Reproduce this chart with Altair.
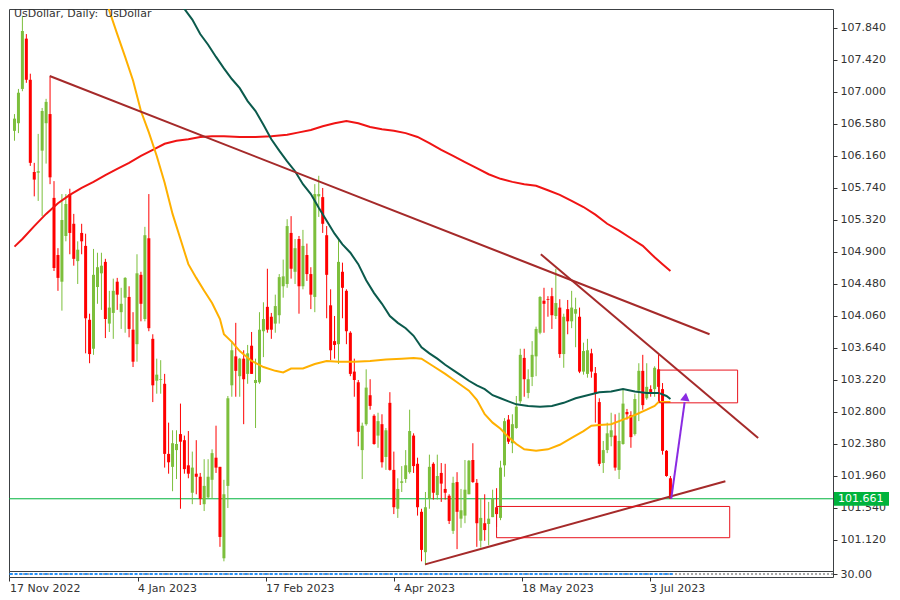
import altair as alt
import pandas as pd

# ---------------- data ----------------
opens = [106.49, 106.59, 107.04, 107.70, 107.16, 105.95, 105.94, 106.23, 106.59, 106.71,
         105.61, 104.86, 104.51, 105.11, 105.66, 105.27, 104.78, 105.15, 104.98, 104.01,
         103.63, 104.44, 104.62, 104.77, 103.96, 104.10, 104.51, 104.11, 104.30, 104.31,
         103.88, 103.69, 104.60, 104.02, 105.08, 103.76, 103.21, 103.22, 103.17, 102.25,
         102.08, 102.30, 102.51, 102.43, 102.10, 101.74, 101.99, 101.95, 101.59, 101.68,
         101.91, 102.20, 102.08, 100.88, 101.83, 103.15, 103.53, 103.27, 103.50, 103.30,
         103.67, 103.18, 103.19, 103.86, 104.18, 104.05, 103.96, 104.07, 104.45, 104.48,
         105.15, 104.64, 105.07, 104.45, 104.86, 104.61, 104.31, 105.63, 105.62, 105.12,
         104.20, 103.73, 103.69, 104.64, 104.39, 103.84, 103.33, 103.19, 102.30, 102.64,
         103.02, 102.75, 102.49, 102.64, 102.21, 102.92, 102.04, 101.53, 101.87, 101.92,
         102.01, 102.49, 102.12, 101.49, 100.96, 101.66, 102.12, 101.71, 102.00, 101.79,
         101.70, 101.24, 101.88, 101.40, 101.44, 101.72, 102.17, 101.87, 101.11, 101.34,
         101.33, 101.42, 101.55, 101.41, 102.10, 102.70, 102.39, 102.59, 102.94, 103.51,
         103.05, 103.26, 103.53, 103.84, 104.26, 104.28, 104.32, 104.06, 104.17, 103.56,
         104.15, 103.99, 104.09, 104.05, 103.33, 103.30, 103.57, 103.31, 102.93, 102.13,
         102.30, 102.47, 102.49, 102.04, 102.38, 102.80, 102.76, 102.51, 103.08, 103.34,
         102.98, 103.10, 103.10, 103.36, 103.10, 102.29, 101.93]
highs = [106.71, 107.04, 108.00, 107.76, 107.24, 106.07, 106.45, 106.79, 106.91, 107.20,
         105.83, 104.95, 105.66, 105.66, 105.73, 105.40, 105.04, 105.27, 105.14, 104.09,
         104.94, 104.89, 104.89, 104.81, 104.39, 104.55, 104.56, 104.43, 104.57, 104.45,
         104.11, 104.87, 104.64, 105.23, 105.66, 103.82, 103.50, 103.48, 103.30, 102.66,
         102.56, 102.56, 102.91, 102.49, 102.55, 102.28, 102.43, 102.00, 102.18, 102.18,
         102.31, 102.62, 102.08, 101.91, 103.01, 103.73, 103.97, 103.51, 103.61, 103.68,
         103.85, 103.50, 104.11, 104.24, 104.68, 104.10, 104.34, 104.61, 104.80, 105.33,
         105.37, 105.07, 105.11, 105.19, 105.01, 104.70, 105.79, 105.90, 105.74, 105.24,
         104.41, 104.06, 105.07, 104.76, 104.41, 103.86, 103.50, 103.22, 102.66, 103.36,
         103.23, 102.77, 102.79, 102.77, 102.59, 103.06, 102.28, 101.93, 102.09, 102.30,
         102.83, 102.52, 102.20, 101.53, 101.75, 102.24, 102.14, 102.24, 102.13, 102.12,
         101.72, 101.95, 102.01, 101.79, 102.17, 102.17, 102.39, 101.92, 101.67, 101.72,
         101.62, 101.78, 101.80, 102.16, 102.72, 102.76, 102.77, 103.01, 103.63, 103.63,
         103.36, 103.73, 103.92, 104.32, 104.43, 104.32, 104.43, 104.68, 104.28, 104.09,
         104.27, 104.39, 104.30, 104.17, 103.71, 103.76, 103.63, 103.39, 102.98, 102.42,
         102.66, 102.79, 102.77, 102.79, 103.10, 102.84, 102.81, 103.04, 103.44, 103.55,
         103.44, 103.15, 103.40, 103.55, 103.18, 102.30, 101.96]
lows = [106.36, 106.46, 107.01, 107.12, 106.03, 105.63, 105.57, 105.37, 106.06, 105.79,
        104.65, 104.39, 104.13, 105.04, 104.87, 104.72, 104.48, 104.87, 103.57, 103.44,
        103.55, 104.22, 104.14, 103.77, 103.85, 103.76, 104.14, 103.89, 103.84, 103.78,
        103.39, 103.46, 103.99, 103.99, 103.86, 102.93, 103.04, 103.04, 102.07, 101.99,
        101.76, 101.92, 101.53, 101.99, 101.93, 101.59, 101.72, 101.58, 101.50, 101.66,
        101.66, 102.00, 101.03, 100.84, 101.54, 103.00, 103.00, 103.00, 102.64, 103.17,
        103.30, 102.59, 103.17, 103.52, 103.84, 103.76, 103.84, 103.96, 104.30, 104.43,
        104.55, 104.48, 104.09, 104.41, 104.52, 104.15, 104.11, 105.36, 105.15, 104.03,
        103.48, 103.50, 103.43, 104.03, 103.69, 103.27, 103.00, 102.35, 101.92, 102.62,
        102.83, 102.37, 102.33, 102.07, 102.04, 102.03, 101.46, 101.41, 101.75, 101.87,
        101.99, 102.00, 101.44, 100.84, 100.79, 101.53, 101.65, 101.65, 101.62, 101.65,
        101.33, 101.20, 101.00, 101.28, 101.34, 101.72, 101.87, 101.03, 101.02, 101.11,
        101.05, 101.42, 101.29, 101.38, 101.95, 102.38, 102.26, 102.58, 102.91, 103.00,
        102.98, 103.14, 103.27, 103.82, 103.84, 104.05, 103.89, 104.02, 103.51, 103.38,
        103.82, 103.90, 103.65, 103.31, 103.29, 103.25, 103.25, 102.66, 102.09, 102.00,
        102.26, 102.35, 102.03, 101.92, 102.37, 102.70, 102.33, 102.49, 102.68, 102.83,
        102.96, 103.00, 103.00, 102.93, 102.24, 101.95, 101.66]
closes = [106.65, 106.99, 107.80, 107.16, 106.07, 105.85, 105.96, 106.75, 106.87, 105.88,
          104.69, 104.56, 105.32, 105.53, 105.15, 104.81, 104.93, 105.04, 104.03, 103.56,
          104.60, 104.70, 104.72, 104.02, 104.17, 104.39, 104.34, 104.22, 104.56, 103.89,
          103.46, 104.62, 104.22, 105.12, 103.90, 103.15, 103.29, 103.23, 102.25, 102.14,
          102.39, 102.38, 102.41, 102.05, 101.99, 102.07, 101.95, 101.66, 101.83, 101.95,
          102.26, 102.07, 101.16, 101.72, 102.98, 103.61, 103.34, 103.50, 103.23, 103.57,
          103.30, 103.22, 103.88, 104.02, 103.88, 103.88, 104.19, 104.57, 104.58, 105.24,
          104.68, 104.95, 104.45, 104.98, 104.61, 104.34, 105.66, 105.66, 105.27, 104.60,
          103.61, 103.68, 104.77, 104.43, 103.86, 103.30, 103.22, 102.54, 102.62, 103.12,
          102.88, 102.38, 102.68, 102.14, 102.56, 102.04, 101.55, 101.79, 101.89, 102.10,
          102.55, 102.09, 101.55, 100.99, 101.55, 102.08, 101.74, 101.96, 101.86, 101.74,
          101.37, 101.87, 101.49, 101.51, 101.78, 102.16, 101.88, 101.34, 101.41, 101.25,
          101.40, 101.66, 101.46, 102.07, 102.68, 102.41, 102.64, 102.87, 103.55, 103.23,
          103.23, 103.55, 103.89, 104.31, 104.22, 104.27, 104.07, 104.23, 103.56, 104.05,
          103.99, 104.17, 104.15, 103.33, 103.60, 103.61, 103.33, 103.04, 102.12, 102.30,
          102.52, 102.56, 102.07, 102.42, 102.91, 102.77, 102.47, 102.97, 103.34, 102.89,
          103.13, 103.04, 103.38, 103.13, 102.29, 101.96, 101.661]

date_ticks = [0, 32, 64, 96, 128, 160]
date_labels = ["17 Nov 2022", "4 Jan 2023", "17 Feb 2023", "4 Apr 2023", "18 May 2023", "3 Jul 2023"]
price_ticks = [107.84, 107.42, 107.00, 106.58, 106.16, 105.74, 105.32, 104.90, 104.48,
               104.06, 103.64, 103.22, 102.80, 102.38, 101.96, 101.54, 101.12]

ma_fast_k = [15, 20, 23, 26, 28, 30, 32, 34, 36, 38, 40, 42, 44, 46, 48, 50, 52, 53, 55, 57,
             60, 63, 66, 68, 70, 73, 76, 79, 82, 86, 90, 94, 98, 101, 103, 106, 109, 112, 115, 117,
             119, 121, 123, 125, 127, 129, 132, 135, 138, 141, 144, 146, 148, 151, 154, 157, 160, 162, 163, 166]
ma_fast_v = [108.98, 108.43, 108.22, 107.76, 107.46, 107.15, 106.75, 106.47, 106.16, 105.81,
             105.40, 105.07, 104.74, 104.56, 104.39, 104.23, 104.02, 103.82, 103.72, 103.60,
             103.47, 103.39, 103.34, 103.32, 103.37, 103.37, 103.43, 103.47, 103.46, 103.46,
             103.47, 103.49, 103.50, 103.51, 103.50, 103.40, 103.30, 103.19, 103.08, 102.96,
             102.77, 102.66, 102.58, 102.47, 102.38, 102.31, 102.29, 102.31, 102.37, 102.46,
             102.55, 102.62, 102.63, 102.64, 102.70, 102.76, 102.83, 102.88, 102.93, 102.93]
ma_mid_k = [38, 41, 43, 45, 47, 49, 51, 53, 55, 57, 59, 61, 63, 65, 67, 69, 71, 73, 75, 77,
            79, 81, 83, 85, 87, 89, 91, 93, 95, 97, 99, 101, 103, 105, 107, 109, 111, 113, 115, 117,
            119, 121, 123, 125, 127, 130, 133, 136, 139, 142, 145, 148, 151, 154, 157, 160, 163, 165, 166]
ma_mid_v = [108.52, 108.23, 108.09, 107.95, 107.76, 107.62, 107.46, 107.31, 107.17, 107.05,
            106.88, 106.75, 106.57, 106.38, 106.23, 106.09, 105.96, 105.79, 105.66, 105.48,
            105.31, 105.14, 105.00, 104.89, 104.74, 104.53, 104.36, 104.22, 104.06, 103.97,
            103.90, 103.80, 103.65, 103.57, 103.50, 103.42, 103.35, 103.28, 103.21, 103.15,
            103.10, 103.02, 102.98, 102.94, 102.90, 102.88, 102.87, 102.88, 102.92, 102.98,
            103.02, 103.06, 103.07, 103.10, 103.07, 103.05, 103.05, 103.01, 102.97]
ma_slow_k = [0, 2, 5, 8, 11, 14, 17, 20, 23, 26, 29, 32, 35, 38, 41, 44, 47, 50, 53, 57,
             61, 65, 69, 72, 75, 78, 81, 84, 87, 90, 93, 96, 99, 102, 105, 108, 111, 114, 117, 120,
             123, 126, 129, 132, 135, 138, 141, 144, 147, 150, 153, 156, 159, 162, 164, 166]
ma_slow_v = [104.97, 105.07, 105.24, 105.40, 105.54, 105.65, 105.74, 105.82, 105.91, 105.99,
             106.07, 106.16, 106.24, 106.32, 106.36, 106.38, 106.41, 106.42, 106.42, 106.41,
             106.41, 106.42, 106.44, 106.47, 106.50, 106.55, 106.59, 106.62, 106.59, 106.54,
             106.51, 106.49, 106.46, 106.41, 106.33, 106.24, 106.16, 106.08, 106.00, 105.92,
             105.86, 105.82, 105.79, 105.77, 105.71, 105.65, 105.57, 105.49, 105.39, 105.27,
             105.18, 105.08, 104.98, 104.83, 104.74, 104.65]

trend_id = ["a", "a", "b", "b", "c", "c"]
trend_k = [8.9, 175.9, 133.2, 188.2, 103.9, 179.9]
trend_p = [107.21, 103.82, 104.87, 102.46, 100.80, 101.89]

zone_k1 = [163.2, 122.0]
zone_k2 = [183.0, 181.0]
zone_top = [103.35, 101.56]
zone_bottom = [102.92, 101.15]

arrow_k = [166.2, 169.6]
arrow_p = [101.66, 102.93]
arrow_head_k = [169.8]
arrow_head_p = [103.0]

last_price = [101.661]
sub_level = [30]
chart_title = "UsDollar, Daily: \u00a0UsDollar"

# ---------------- styling ----------------
BULL = "#7CBF3C"
BEAR = "#FF0000"
C_FAST = "#FFB000"
C_MID = "#0B5A4C"
C_SLOW = "#F01414"
BROWN = "#A52A2A"
ZONE = "#E8141E"
GREEN = "#00B33C"
PURPLE = "#8A2BE2"
INK = "#333333"
FONT = "DejaVu Sans"

W, H = 824, 562
xs = alt.Scale(domain=[-0.125, 205.875], nice=False, zero=False)
ys = alt.Scale(domain=[100.713, 108.089], nice=False, zero=False)

y_axis = alt.Axis(orient="right", values=price_ticks, format=".3f", title=None, tickSize=4,
                  labelPadding=3, domain=False, grid=False, labelOverlap=False, labelFlush=False)
X = lambda f: alt.X(f, scale=xs, axis=None)
Y = lambda f: alt.Y(f, scale=ys, axis=y_axis)

candles = pd.DataFrame({"k": list(range(len(opens))), "open": opens, "high": highs,
                        "low": lows, "close": closes})
candles["dir"] = ["up" if c >= o else "down" for o, c in zip(opens, closes)]
col = alt.Color("dir:N", scale=alt.Scale(domain=["up", "down"], range=[BULL, BEAR]), legend=None)

price_line = alt.Chart(pd.DataFrame({"p": last_price})).mark_rule(
    color=GREEN, strokeWidth=1, clip=True).encode(y=Y("p:Q"))

base = alt.Chart(candles)
wicks = base.mark_rule(strokeWidth=1, clip=True).encode(
    x=X("k:Q"), y=Y("low:Q"), y2="high:Q", color=col)
bodies = base.mark_bar(size=3, clip=True).encode(
    x=X("k:Q"), y=Y("open:Q"), y2="close:Q", color=col)


def ma_layer(ks, vs, colour):
    df = pd.DataFrame({"k": ks, "v": vs})
    return alt.Chart(df).mark_line(strokeWidth=2, clip=True, color=colour).encode(
        x=X("k:Q"), y=Y("v:Q"), order="k:Q")


ma_slow = ma_layer(ma_slow_k, ma_slow_v, C_SLOW)
ma_mid = ma_layer(ma_mid_k, ma_mid_v, C_MID)
ma_fast = ma_layer(ma_fast_k, ma_fast_v, C_FAST)

trend_df = pd.DataFrame({"id": trend_id, "k": trend_k, "p": trend_p})
trends = alt.Chart(trend_df).mark_line(strokeWidth=2, color=BROWN, clip=True).encode(
    x=X("k:Q"), y=Y("p:Q"), detail="id:N")

zone_df = pd.DataFrame({"k1": zone_k1, "k2": zone_k2, "top": zone_top, "bottom": zone_bottom})
zones = alt.Chart(zone_df).mark_rect(fillOpacity=0, stroke=ZONE, strokeWidth=1, clip=True).encode(
    x=X("k1:Q"), x2="k2:Q", y=Y("top:Q"), y2="bottom:Q")

arrow_line = alt.Chart(pd.DataFrame({"k": arrow_k, "p": arrow_p})).mark_line(
    color=PURPLE, strokeWidth=2, clip=True).encode(x=X("k:Q"), y=Y("p:Q"))
arrow_head = alt.Chart(pd.DataFrame({"k": arrow_head_k, "p": arrow_head_p})).mark_point(
    shape="triangle-up", filled=True, size=90, angle=8, color=PURPLE, opacity=1, clip=True).encode(
    x=X("k:Q"), y=Y("p:Q"))

title_txt = alt.Chart(pd.DataFrame({"t": [chart_title]})).mark_text(
    align="left", baseline="middle", font=FONT, fontSize=11, color=INK, clip=True).encode(
    x=alt.value(5), y=alt.value(5), text="t:N")

tag_df = pd.DataFrame({"p": last_price})
tag_df["lo"] = tag_df["p"] - 0.09
tag_df["hi"] = tag_df["p"] + 0.09
tag_df["lab"] = [f"{v:.3f}" for v in last_price]
tag_box = alt.Chart(tag_df).mark_rect(color=GREEN).encode(
    x=alt.value(W + 1), x2=alt.value(W + 56), y=Y("lo:Q"), y2="hi:Q")
tag_txt = alt.Chart(tag_df).mark_text(align="left", baseline="middle", font=FONT,
                                      fontSize=11, color="white").encode(
    x=alt.value(W + 5), y=Y("p:Q"), text="lab:N")

main = alt.layer(price_line, wicks, bodies, ma_slow, ma_mid, ma_fast, trends, zones,
                 arrow_line, arrow_head, title_txt, tag_box, tag_txt).properties(width=W, height=H)

# sub-window strip with date axis
label_expr = " : ".join(f"datum.value == {t} ? '{l}'" for t, l in zip(date_ticks, date_labels)) + " : ''"
x_axis = alt.Axis(orient="bottom", values=date_ticks, labelExpr=label_expr, labelAlign="left",
                  tickSize=4, labelPadding=1, title=None, grid=False, domain=False,
                  labelFlush=False, labelOverlap=False)
sub_axis = alt.Axis(orient="right", values=sub_level, format=".2f", title=None,
                    tickSize=4, labelPadding=3, domain=False, grid=False,
                    labelOverlap=False, labelFlush=False)
sub_scale = alt.Scale(domain=[0, 60])
sub_df = pd.DataFrame({"k0": [0], "k1": [len(opens) - 1], "v": sub_level})
sub_gray = alt.Chart(sub_df).mark_rule(color="#A8A8A8", strokeDash=[2, 2], strokeWidth=2,
                                       clip=True).encode(
    y=alt.Y("v:Q", scale=sub_scale, axis=sub_axis))
sub_blue = alt.Chart(sub_df).mark_rule(color="#1E90FF", strokeDash=[3, 2], strokeWidth=2,
                                       clip=True).encode(
    x=alt.X("k0:Q", scale=xs, axis=x_axis), x2="k1:Q",
    y=alt.Y("v:Q", scale=sub_scale, axis=sub_axis))
sub = alt.layer(sub_gray, sub_blue).properties(width=W, height=6)

chart = alt.vconcat(main, sub, spacing=0, bounds="flush").properties(
    padding=0, background="white"
).configure_view(
    stroke="#3C4043", strokeWidth=1
).configure_axis(
    labelFont=FONT, labelFontSize=11, labelColor=INK, tickColor=INK, domainColor=INK
)

chart.save("out.html", embed_options={"renderer": "svg", "actions": False})
